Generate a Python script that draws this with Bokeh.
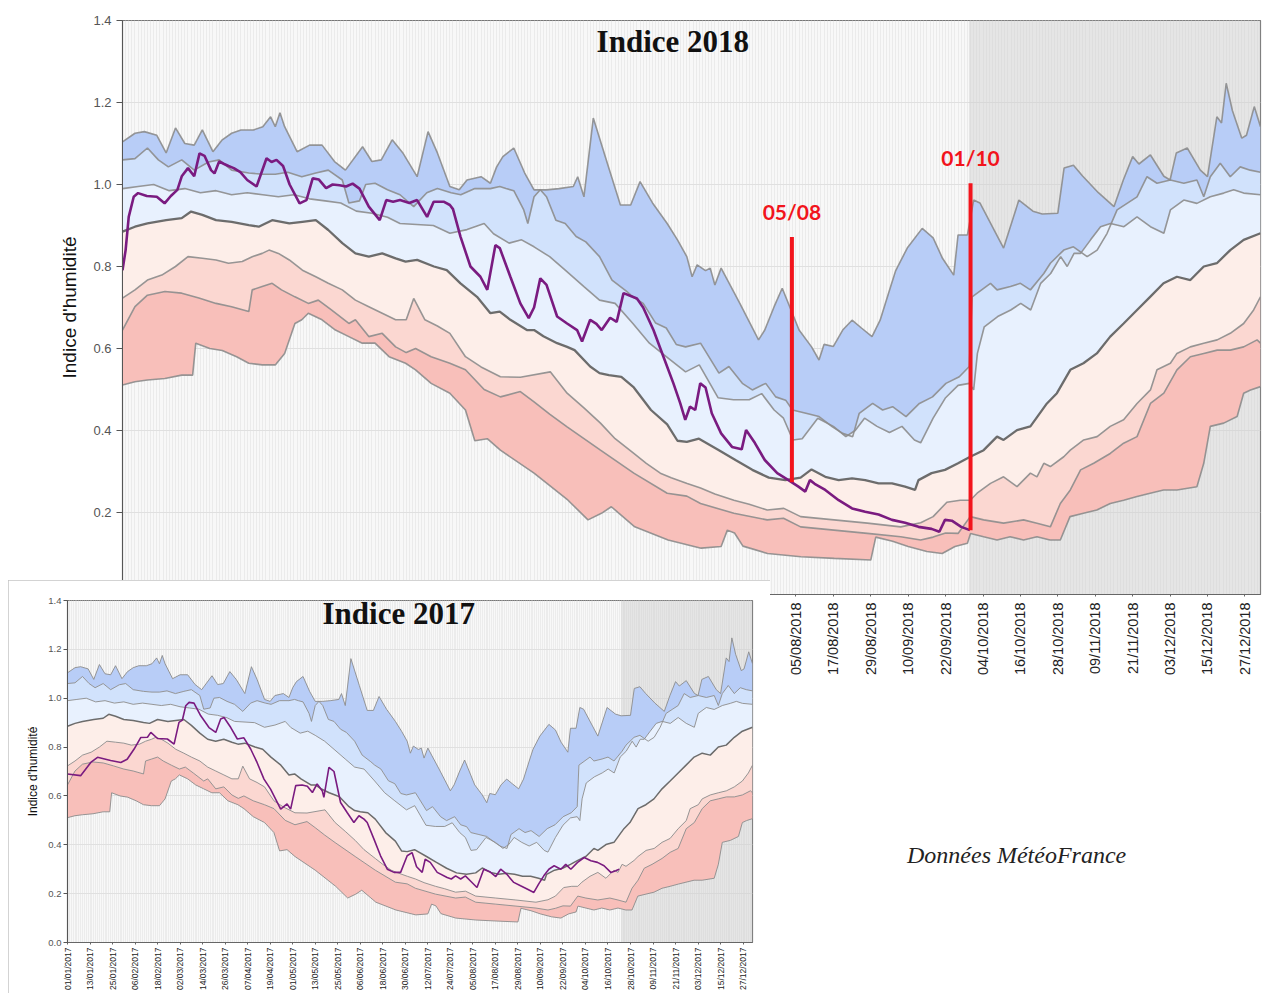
import math
from bokeh.plotting import figure
from bokeh.layouts import column, row
from bokeh.models import Range1d, FixedTicker, PrintfTickFormatter, BoxAnnotation, Label, Div
from bokeh.embed import file_html
from bokeh.resources import INLINE
from bokeh.core.properties import value

# ---------------- data (day of year, 0 = 1 January ; soil wetness index) ----------------
TICK_DAYS = list(range(0, 361, 12))
TICK_DM = ["01/01", "13/01", "25/01", "06/02", "18/02", "02/03", "14/03", "26/03", "07/04", "19/04",
           "01/05", "13/05", "25/05", "06/06", "18/06", "30/06", "12/07", "24/07", "05/08", "17/08",
           "29/08", "10/09", "22/09", "04/10", "16/10", "28/10", "09/11", "21/11", "03/12", "15/12", "27/12"]
Y_TICKS = [0.0, 0.2, 0.4, 0.6, 0.8, 1.0, 1.2, 1.4]

MAX_PTS = [(0, 1.104), (4, 1.125), (7, 1.129), (11, 1.12), (14, 1.077), (17, 1.138), (20, 1.10), (23, 1.096),
           (25.6, 1.133), (29, 1.08), (32, 1.109), (35, 1.125), (38, 1.133), (42, 1.133), (45, 1.141),
           (47.5, 1.165), (49, 1.141), (50.5, 1.175), (52, 1.141), (56, 1.08), (60, 1.096), (64, 1.096),
           (68, 1.056), (71.5, 1.035), (77, 1.092), (80, 1.056), (83, 1.06), (86.5, 1.109), (90, 1.076),
           (94.5, 1.019), (98, 1.129), (101, 1.077), (105, 0.995), (108, 0.987), (110.5, 1.011), (115, 1.019),
           (118, 1.003), (120, 1.043), (122, 1.068), (125.5, 1.089), (129, 1.028), (132, 0.987), (136, 0.987),
           (140, 0.99), (144.6, 0.995), (146, 1.019), (148, 0.970), (151, 1.162), (155.5, 1.052), (159.7, 0.950),
           (163, 0.950), (166, 1.007), (170, 0.955), (174.7, 0.905), (178, 0.865), (181, 0.824), (182.7, 0.775),
           (184.3, 0.804), (187, 0.79), (188.5, 0.796), (190, 0.755), (192, 0.796), (198, 0.71), (204, 0.621),
           (206, 0.645), (209, 0.702), (211.6, 0.747), (214, 0.702), (217, 0.645), (221, 0.604), (223.4, 0.572),
           (225, 0.61), (228, 0.605), (231, 0.645), (234, 0.669), (237, 0.65), (240.4, 0.629), (243, 0.669),
           (245.7, 0.735), (248, 0.79), (251.7, 0.845), (256.5, 0.893), (260, 0.87), (263, 0.82), (266.6, 0.779),
           (268, 0.877), (271, 0.877), (273, 0.962), (275, 0.955), (282.6, 0.845), (287.5, 0.962), (292, 0.935),
           (295, 0.928), (300, 0.93), (302, 1.04), (305, 1.047), (308, 1.02), (313, 0.98), (318, 0.946),
           (321, 1.011), (324, 1.068), (326, 1.05), (329.7, 1.072), (334, 1.02), (336, 1.011), (338, 1.077),
           (341.5, 1.089), (345.7, 1.035), (348, 1.019), (351, 1.165), (352.5, 1.15), (354, 1.247), (356, 1.18),
           (359, 1.113), (360.5, 1.12), (363, 1.19), (365, 1.141)]

D9_PTS = [(0, 1.06), (4, 1.063), (8, 1.089), (11.5, 1.06), (14.7, 1.043), (19, 1.06), (23, 1.035), (27.6, 1.055),
          (31, 1.06), (35, 1.035), (40.5, 1.028), (45, 1.025), (49, 1.025), (53, 1.03), (57.5, 1.019),
          (62, 1.028), (66, 1.035), (70.5, 1.011), (72.6, 0.955), (76, 0.96), (78, 1.0), (81, 1.003), (85, 0.987),
          (89, 0.975), (93.4, 0.946), (97.6, 0.98), (101, 0.99), (105.4, 0.98), (108.5, 0.975), (113, 0.99),
          (118, 0.99), (121, 0.995), (123, 0.99), (125.5, 0.985), (128.7, 0.938), (130, 0.905), (132, 0.97),
          (134, 0.987), (136, 0.97), (139, 0.913), (142, 0.905), (145.5, 0.873), (148.6, 0.86), (153, 0.824),
          (157, 0.767), (161.6, 0.74), (163.7, 0.726), (167, 0.71), (171, 0.662), (174.4, 0.65), (177.6, 0.61),
          (180.6, 0.604), (185.4, 0.613), (191.3, 0.54), (194.5, 0.556), (198.8, 0.515), (202, 0.499),
          (206.3, 0.515), (209.5, 0.482), (212.7, 0.474), (214.9, 0.45), (219.2, 0.442), (223.4, 0.434),
          (227.7, 0.409), (231, 0.393), (234.2, 0.385), (236.3, 0.442), (240.6, 0.466), (243.8, 0.45),
          (247, 0.458), (251.3, 0.434), (255.6, 0.466), (259.8, 0.482), (264.1, 0.515), (268.4, 0.531),
          (271.6, 0.556), (272.5, 0.726), (278.4, 0.759), (280.5, 0.743), (284.8, 0.751), (288, 0.759),
          (291.2, 0.743), (295.5, 0.783), (297.6, 0.808), (301.9, 0.84), (305, 0.848), (309.4, 0.824),
          (312.6, 0.84), (315.8, 0.881), (319, 0.938), (322.2, 0.954), (325.4, 0.97), (328.6, 1.019),
          (331.8, 1.003), (336.1, 1.011), (340.4, 1.003), (344.6, 1.011), (346.8, 0.97), (348.9, 1.019),
          (352.1, 1.052), (355.3, 1.019), (358.5, 1.043), (361.7, 1.035), (365, 1.03)]

Q3_PTS = [(0, 0.99), (5, 0.995), (10, 1.0), (15, 0.985), (20, 0.99), (25, 0.98), (30, 0.985), (35, 0.975),
          (40, 0.98), (45, 0.975), (50, 0.97), (55, 0.975), (60, 0.965), (65, 0.96), (70, 0.955), (75, 0.935),
          (80, 0.93), (85, 0.92), (89, 0.905), (99.7, 0.9), (105, 0.881), (110.5, 0.89), (116, 0.905),
          (119, 0.88), (124, 0.857), (128, 0.865), (132, 0.848), (137, 0.824), (142, 0.791), (148, 0.751),
          (153, 0.718), (158, 0.71), (163.7, 0.661), (169, 0.613), (174.4, 0.58), (180.6, 0.543), (185, 0.56),
          (191, 0.48), (196, 0.475), (201, 0.475), (205, 0.49), (209, 0.45), (212, 0.43), (215, 0.377),
          (218, 0.38), (223, 0.43), (228, 0.41), (232, 0.385), (235, 0.40), (238, 0.43), (242, 0.41),
          (246, 0.395), (250, 0.41), (254, 0.377), (256, 0.37), (260, 0.43), (264, 0.48), (268, 0.51),
          (271.6, 0.515), (273, 0.499), (274.2, 0.588), (276.4, 0.653), (280.7, 0.678), (284.9, 0.694),
          (288.1, 0.710), (291.3, 0.694), (294.5, 0.759), (297.7, 0.783), (300.9, 0.824), (303, 0.800),
          (305.2, 0.832), (307.3, 0.832), (310.5, 0.865), (313.7, 0.897), (316.9, 0.905), (321.2, 0.897),
          (325.4, 0.921), (329.7, 0.897), (334, 0.881), (336.1, 0.938), (340.4, 0.962), (344.6, 0.954),
          (348.9, 0.970), (353.2, 0.979), (356.4, 0.987), (359.6, 0.979), (365, 0.975)]

MED_PTS = [(0, 0.885), (4, 0.897), (8, 0.905), (14, 0.913), (19, 0.918), (22, 0.934), (25.6, 0.926), (30, 0.913),
           (35, 0.909), (40.5, 0.901), (43.7, 0.897), (48, 0.913), (53.5, 0.905), (57.7, 0.909), (62, 0.913),
           (66, 0.889), (70.5, 0.857), (74.7, 0.832), (79, 0.824), (83.3, 0.832), (87.6, 0.820), (90.8, 0.812),
           (94.5, 0.816), (99.9, 0.800), (104, 0.791), (108.4, 0.759), (113.7, 0.726), (118, 0.686), (121, 0.690),
           (124.4, 0.670), (129.7, 0.645), (132, 0.645), (135, 0.630), (139.4, 0.613), (142.6, 0.604),
           (145, 0.596), (150, 0.556), (153, 0.540), (156, 0.535), (160, 0.531), (164, 0.505), (169.5, 0.45),
           (174.7, 0.415), (178, 0.375), (181, 0.372), (184.9, 0.380), (191.3, 0.352), (196.6, 0.328),
           (202, 0.304), (207.3, 0.285), (212.6, 0.279), (217.5, 0.285), (221, 0.305), (225.4, 0.287),
           (229.7, 0.279), (234, 0.283), (238.2, 0.279), (242.5, 0.271), (246.8, 0.271), (251, 0.263),
           (254.2, 0.255), (255.3, 0.279), (259.5, 0.296), (263.8, 0.304), (268, 0.32), (271.9, 0.336),
           (276.2, 0.352), (280.5, 0.385), (282.6, 0.377), (286.9, 0.401), (291.2, 0.410), (296.5, 0.466),
           (299.7, 0.491), (304, 0.548), (308.2, 0.564), (312.5, 0.588), (316.8, 0.629), (321.1, 0.661),
           (325.4, 0.694), (329.6, 0.726), (333.9, 0.759), (338.2, 0.775), (342.5, 0.767), (346.8, 0.800),
           (351, 0.808), (355.3, 0.840), (359.6, 0.865), (365, 0.881)]

Q1_PTS = [(0, 0.723), (4, 0.743), (8, 0.767), (12.6, 0.779), (17, 0.80), (21, 0.824), (25.6, 0.82), (30, 0.816),
          (34, 0.808), (38.4, 0.812), (41.6, 0.824), (44.8, 0.832), (47, 0.840), (50, 0.832), (53.5, 0.816),
          (57.7, 0.791), (62, 0.775), (66, 0.759), (70.5, 0.743), (74.7, 0.718), (79, 0.702), (83.3, 0.686),
          (87.6, 0.670), (91, 0.67), (93.4, 0.722), (97, 0.67), (101, 0.655), (105, 0.637), (110, 0.58),
          (115, 0.555), (121.2, 0.531), (127.6, 0.53), (137.2, 0.543), (142.6, 0.491), (148, 0.455),
          (153.3, 0.418), (158, 0.38), (164, 0.344), (168, 0.32), (172.5, 0.296), (176, 0.285), (181.1, 0.271),
          (185.4, 0.26), (190, 0.245), (196.1, 0.230), (201, 0.22), (206.8, 0.206), (212.1, 0.21),
          (217.5, 0.190), (228.2, 0.182), (238.9, 0.174), (249.6, 0.165), (256, 0.175), (260, 0.19),
          (264.4, 0.225), (268.7, 0.23), (271.9, 0.23), (274.1, 0.247), (278.4, 0.271), (282.6, 0.287),
          (286.9, 0.263), (291.2, 0.296), (293.3, 0.287), (295.5, 0.320), (297.6, 0.312), (301.9, 0.336),
          (304, 0.352), (308.3, 0.377), (312.6, 0.385), (316.8, 0.410), (321.1, 0.426), (325.4, 0.466),
          (329.7, 0.499), (331.8, 0.548), (336.1, 0.564), (338.2, 0.588), (342.5, 0.604), (346.8, 0.613),
          (351.1, 0.621), (355.3, 0.637), (359.6, 0.661), (362.8, 0.694), (365, 0.726)]

D1_PTS = [(0, 0.645), (4, 0.702), (8, 0.730), (13.6, 0.739), (19, 0.735), (24.5, 0.723), (30, 0.710), (35, 0.702),
          (40.5, 0.690), (41.6, 0.743), (44.8, 0.751), (48, 0.759), (51, 0.743), (55.3, 0.726), (59.6, 0.710),
          (62.8, 0.718), (67, 0.694), (72.6, 0.661), (74.7, 0.67), (79, 0.629), (83.3, 0.637), (87.6, 0.604),
          (91, 0.59), (94, 0.6), (99, 0.58), (105, 0.564), (110, 0.548), (116, 0.50), (121.2, 0.482),
          (127.6, 0.495), (132, 0.47), (137, 0.44), (142.6, 0.409), (153.3, 0.352), (164, 0.296),
          (174.7, 0.247), (181, 0.24), (185.4, 0.222), (196.1, 0.198), (206.8, 0.182), (212, 0.186),
          (217.5, 0.165), (228.2, 0.157), (238.9, 0.149), (249.6, 0.141), (256, 0.133), (260, 0.14),
          (264, 0.15), (268, 0.149), (271.9, 0.19), (276.2, 0.182), (282.6, 0.174), (289, 0.182),
          (293.3, 0.174), (297.6, 0.165), (300.8, 0.222), (304, 0.255), (307.3, 0.304), (311.5, 0.320),
          (316.8, 0.344), (321.1, 0.369), (325.4, 0.385), (329.7, 0.466), (334, 0.491), (338.2, 0.548),
          (342.5, 0.580), (346.8, 0.588), (351.1, 0.596), (355.3, 0.596), (359.6, 0.604), (363.9, 0.621),
          (365, 0.613)]

MIN_PTS = [(0, 0.511), (4, 0.519), (8, 0.523), (13.6, 0.527), (19, 0.535), (22.5, 0.535), (23.5, 0.613), (28, 0.60),
           (32, 0.595), (36.6, 0.58), (40.5, 0.564), (44.8, 0.56), (49, 0.56), (52, 0.588), (55.3, 0.661),
           (57.5, 0.67), (59.6, 0.686), (64, 0.670), (68.3, 0.645), (72.6, 0.629), (76.9, 0.613), (81, 0.613),
           (85.5, 0.58), (90.8, 0.564), (94, 0.548), (99, 0.515), (105, 0.491), (110, 0.45), (113, 0.375),
           (117, 0.38), (121.2, 0.352), (132, 0.296), (142.9, 0.230), (149.3, 0.182), (153.6, 0.198),
           (156.8, 0.214), (164.3, 0.165), (175, 0.133), (185.6, 0.113), (192, 0.117), (194, 0.157),
           (196.3, 0.15), (199, 0.118), (206.9, 0.10), (217.6, 0.092), (228.3, 0.088), (240, 0.084),
           (241.6, 0.14), (247, 0.13), (252, 0.117), (258, 0.105), (262.9, 0.1), (267, 0.117), (271, 0.125),
           (272, 0.149), (276.2, 0.141), (280.5, 0.133), (284.7, 0.141), (289, 0.133), (293.3, 0.141),
           (297.5, 0.133), (300.8, 0.133), (303.9, 0.190), (308.2, 0.198), (312.5, 0.206), (316.8, 0.222),
           (321.1, 0.230), (325.4, 0.239), (329.6, 0.247), (333.9, 0.255), (338.2, 0.255), (344.6, 0.263),
           (346.8, 0.320), (348.9, 0.410), (353.2, 0.418), (357.5, 0.434), (359.6, 0.491), (361.8, 0.499),
           (365, 0.507)]

SWI_2018 = [(0, 0.791), (1, 0.84), (2, 0.921), (3.6, 0.970), (5, 0.979), (7.8, 0.972), (11, 0.970), (13.5, 0.954),
            (15.5, 0.972), (17.6, 0.987), (19, 1.02), (21, 1.04), (23, 1.02), (24.7, 1.076), (26.3, 1.07),
            (28.4, 1.035), (29.5, 1.027), (31, 1.056), (32.6, 1.05), (34, 1.045), (35.7, 1.04), (37.8, 1.03),
            (40, 1.011), (43, 0.995), (46.2, 1.064), (47.8, 1.055), (49.4, 1.06), (51.5, 1.045), (53.6, 1.0),
            (56.8, 0.954), (59, 0.962), (61, 1.015), (63, 1.012), (65.3, 0.991), (67.4, 1.0), (69.6, 0.998),
            (71.7, 0.995), (73.8, 1.002), (76, 0.99), (79, 0.946), (82.5, 0.913), (84.6, 0.962), (86.8, 0.958),
            (89, 0.962), (92, 0.955), (94.5, 0.962), (97.7, 0.921), (99.8, 0.958), (103, 0.958), (105, 0.95),
            (106, 0.94), (108.4, 0.873), (111.6, 0.80), (114.8, 0.775), (117, 0.743), (119.6, 0.852), (121, 0.845),
            (124.4, 0.775), (127.6, 0.71), (130.3, 0.674), (132, 0.70), (134, 0.771), (136, 0.755), (139.4, 0.678),
            (142.6, 0.661), (145.8, 0.645), (147.4, 0.617), (150, 0.67), (152, 0.66), (153.7, 0.645),
            (156.4, 0.675), (158.5, 0.665), (160.7, 0.735), (163, 0.728), (165, 0.722), (167, 0.70),
            (170.3, 0.645), (173.5, 0.58), (176.7, 0.515), (178.9, 0.466), (180.5, 0.426), (182, 0.458),
            (183.7, 0.45), (185.3, 0.515), (187, 0.505), (189, 0.442), (192, 0.393), (195.5, 0.36), (198.6, 0.354),
            (200, 0.401), (202.8, 0.37), (206, 0.328), (210, 0.296), (213.6, 0.279), (216.8, 0.263), (219, 0.251),
            (220.5, 0.279), (222, 0.27), (225.4, 0.255), (229.7, 0.230), (234, 0.210), (238.2, 0.202),
            (242.5, 0.195), (246.8, 0.182), (251, 0.175), (255.3, 0.165), (259.5, 0.16), (262, 0.153),
            (263.8, 0.182), (266, 0.18), (269, 0.165), (271.8, 0.157)]

SWI_2017 = [(0, 0.69), (7, 0.683), (12.4, 0.737), (16, 0.758), (23, 0.745), (28.4, 0.737), (31.8, 0.75),
            (35.5, 0.792), (39, 0.839), (42.6, 0.84), (44.4, 0.86), (48, 0.835), (53.2, 0.833), (56.8, 0.812),
            (59.4, 0.901), (61.2, 0.91), (63, 0.969), (64.8, 0.983), (67.4, 0.98), (71, 0.928), (75.4, 0.880),
            (79, 0.86), (81.6, 0.915), (83.4, 0.921), (87, 0.88), (90.5, 0.833), (94, 0.838), (97.6, 0.792),
            (101, 0.737), (104.7, 0.669), (108.2, 0.628), (113.6, 0.546), (117, 0.567), (118.9, 0.546),
            (121.6, 0.642), (125, 0.645), (127.8, 0.64), (130.5, 0.614), (133, 0.649), (135.8, 0.62),
            (136.6, 0.594), (139.3, 0.717), (142, 0.70), (145.5, 0.573), (149, 0.532), (152.6, 0.491),
            (155.3, 0.519), (158, 0.505), (159.7, 0.491), (163.3, 0.423), (166.8, 0.355), (170.4, 0.30),
            (174, 0.287), (177.5, 0.287), (181, 0.355), (183.6, 0.368), (186, 0.31), (189, 0.287), (190.6, 0.341),
            (193.3, 0.328), (197, 0.287), (202.3, 0.266), (204.5, 0.26), (206.8, 0.273), (209.5, 0.26),
            (212, 0.273), (214.6, 0.253), (218.2, 0.225), (221.8, 0.30), (225, 0.29), (228.2, 0.27), (230.8, 0.30),
            (234, 0.28), (237.8, 0.246), (241.4, 0.232), (244.9, 0.219), (248.5, 0.205), (251.1, 0.24),
            (253.8, 0.273), (256.5, 0.30), (259.3, 0.314), (262.9, 0.30), (265.5, 0.32), (268.2, 0.30),
            (271.8, 0.328), (275.3, 0.348), (278.9, 0.335), (282.4, 0.328), (285.9, 0.314), (289.5, 0.287),
            (292.1, 0.294), (293.9, 0.30)]

# hand-drawn red markers on the 2018 chart
MARK_DAYS = [214.7, 272.0]
MARK_TEXT = ["05/08", "01/10"]
MARK_TOP = [0.872, 1.003]
MARK_BOTTOM = [0.274, 0.157]
MARK_TEXT_Y = [0.933, 1.065]

SOURCE_TEXT = "Données MétéoFrance"

# start of the not-yet-observed (grey) period
GREY_START_2018 = 271.5
GREY_START_2017 = 295.0

BAND_LINES = [MAX_PTS, D9_PTS, Q3_PTS, MED_PTS, Q1_PTS, D1_PTS, MIN_PTS]
BAND_COLORS = ["#b8cdf7", "#d1e2fc", "#e8f1fe", "#fdeee9", "#fbd7d1", "#f8bfba"]

FONT = "Liberation Sans"
SERIF = "Liberation Serif"


def col(pts, i):
    return [p[i] for p in pts]


def build(cfg):
    p = figure(frame_width=cfg["fw"], frame_height=cfg["fh"],
               min_border_left=cfg["bl"], min_border_right=cfg["br"],
               min_border_top=cfg["bt"], min_border_bottom=cfg["bb"],
               x_range=Range1d(0, 365), y_range=Range1d(0, 1.4),
               output_backend="svg", toolbar_location=None,
               background_fill_color="#f8f8f8", border_fill_color="white")
    p.outline_line_color = "#777777"
    p.outline_line_width = 1.2

    # grids: daily vertical stripes + horizontal lines every 0.2
    p.xgrid.ticker = FixedTicker(ticks=list(range(0, 366)))
    p.xgrid.grid_line_color = cfg["vgrid"]
    p.xgrid.grid_line_width = 1
    p.ygrid.ticker = FixedTicker(ticks=Y_TICKS)
    p.ygrid.grid_line_color = "#e0e0e0"

    grey = BoxAnnotation(left=cfg["grey"], right=365, fill_color="#cfcfcf", fill_alpha=0.45,
                         line_color=None, level="underlay")
    p.add_layout(grey)

    # climatological bands
    for i, color in enumerate(BAND_COLORS):
        up, lo = BAND_LINES[i], BAND_LINES[i + 1]
        xs = col(up, 0) + col(lo, 0)[::-1]
        ys = col(up, 1) + col(lo, 1)[::-1]
        p.patch(xs, ys, fill_color=color, line_color=None)
    for i, pts in enumerate(BAND_LINES):
        if i == 3:
            p.line(col(pts, 0), col(pts, 1), line_color="#6c6c6c", line_width=cfg["mw"])
        else:
            p.line(col(pts, 0), col(pts, 1), line_color="#8c8c8c", line_width=cfg["lw"], line_alpha=0.9)

    swi = cfg["swi"]
    p.line(col(swi, 0), col(swi, 1), line_color="#7a1b80", line_width=cfg["pw"])

    # axes
    p.xaxis.ticker = FixedTicker(ticks=TICK_DAYS)
    p.xaxis.major_label_overrides = {d: f"{dm}/{cfg['year']}" for d, dm in zip(TICK_DAYS, TICK_DM)}
    p.xaxis.major_label_orientation = math.pi / 2
    p.xaxis.major_label_text_font = FONT
    p.xaxis.major_label_text_font_size = cfg["xfs"]
    p.xaxis.major_label_text_color = "#222222"
    p.xaxis.major_label_standoff = cfg["xso"]
    p.xaxis.major_tick_out = 2
    p.xaxis.major_tick_in = 0
    p.xaxis.minor_tick_line_color = None
    p.xaxis.axis_line_color = "#666666"
    p.xaxis.major_tick_line_color = "#666666"

    p.yaxis.ticker = FixedTicker(ticks=Y_TICKS)
    p.yaxis.formatter = PrintfTickFormatter(format="%.1f")
    p.yaxis.major_label_text_font = FONT
    p.yaxis.major_label_text_font_size = cfg["yfs"]
    p.yaxis.major_label_text_color = "#555555"
    p.yaxis.major_label_standoff = cfg["yso"]
    p.yaxis.major_tick_out = cfg["yto"]
    p.yaxis.major_tick_in = 0
    p.yaxis.minor_tick_line_color = None
    p.yaxis.axis_line_color = "#555555"
    p.yaxis.major_tick_line_color = "#555555"
    p.yaxis.axis_label = "Indice d'humidité"
    p.yaxis.axis_label_text_font = FONT
    p.yaxis.axis_label_text_font_style = "normal"
    p.yaxis.axis_label_text_font_size = cfg["afs"]
    p.yaxis.axis_label_text_color = "#111111"
    p.yaxis.axis_label_standoff = cfg["aso"]

    p.add_layout(Label(x=176.5, y=1.348, text=f"Indice {cfg['year']}", text_font=SERIF,
                       text_font_style="bold", text_font_size="31px", text_color="#111111",
                       text_align="center", text_baseline="middle"))
    return p


p18 = build(dict(fw=1138, fh=574, bl=122, br=2, bt=20, bb=276, vgrid="#ebebeb", grey=GREY_START_2018,
                 lw=1.6, mw=2.3, pw=2.6, swi=SWI_2018, year=2018, xfs="14.5px", xso=6,
                 yfs="13px", yso=5, yto=6, afs="19px", aso=10))

# red markers
p18.segment(x0=MARK_DAYS, y0=MARK_BOTTOM, x1=MARK_DAYS, y1=MARK_TOP, line_color="#f2141c", line_width=4)
p18.text(x=MARK_DAYS, y=MARK_TEXT_Y, text=MARK_TEXT, text_font=value("Lato"), text_font_style="bold",
         text_font_size="21px", text_color="#f2141c", text_align="center", text_baseline="middle")

p17 = build(dict(fw=685, fh=342, bl=59, br=18, bt=20, bb=44, vgrid="#ececec", grey=GREY_START_2017,
                 lw=1.0, mw=1.5, pw=1.6, swi=SWI_2017, year=2017, xfs="8.5px", xso=3,
                 yfs="9.5px", yso=2, yto=4, afs="12px", aso=5))
p17.styles = {"outline": "1px solid #c4c4c4", "outline-offset": "-1px"}

source = Div(text=SOURCE_TEXT, width=290, height=30, margin=(258, 0, 0, 137),
             styles={"font-family": SERIF, "font-style": "italic", "font-size": "24px",
                     "color": "#222222", "white-space": "nowrap"})

inset = row(p17, source, margin=(-290, 0, 0, 8))
layout = column(p18, inset, spacing=0)
open("out.html", "w").write(file_html(layout, INLINE))
